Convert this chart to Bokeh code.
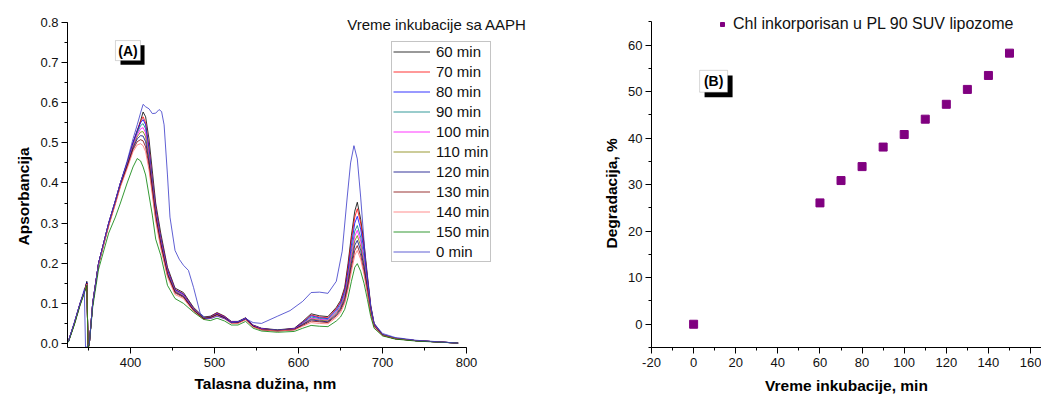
from bokeh.plotting import figure
from bokeh.layouts import row
from bokeh.models import (Legend, LegendItem, Label, BoxAnnotation, Range1d, Title,
                          SingleIntervalTicker, PrintfTickFormatter)
from bokeh.embed import file_html
from bokeh.resources import INLINE

# ---------------- data: panel A (absorption spectra) ----------------
wl = [326, 333, 340, 345, 348, 349.5, 351, 355, 362, 374, 382, 388, 396, 403, 408, 412,
      415, 418, 422, 426, 430, 436, 444, 453, 463, 475, 487, 495, 503, 512, 520, 528,
      537, 546, 556, 575, 595, 605, 615, 625, 635, 645, 650, 655, 659, 663, 667, 670,
      674, 678, 682, 686, 690, 700, 715, 740, 790]

a60 = [0.005, 0.05, 0.10, 0.13, 0.155, -0.012, 0.0, 0.10, 0.20, 0.30, 0.356, 0.40, 0.45, 0.50, 0.53, 0.555,
       0.577, 0.565, 0.51, 0.43, 0.35, 0.275, 0.19, 0.138, 0.127, 0.09, 0.066, 0.068, 0.077, 0.068, 0.055, 0.055,
       0.064, 0.046, 0.038, 0.034, 0.038, 0.055, 0.074, 0.069, 0.067, 0.09, 0.107, 0.14, 0.20, 0.27, 0.33, 0.352,
       0.31, 0.25, 0.17, 0.095, 0.05, 0.022, 0.013, 0.007, 0.001]
a70 = [0.005, 0.048, 0.098, 0.13, 0.15, -0.012, 0.0, 0.10, 0.20, 0.30, 0.355, 0.40, 0.45, 0.50, 0.53, 0.553,
       0.565, 0.55, 0.49, 0.41, 0.34, 0.265, 0.185, 0.135, 0.124, 0.088, 0.064, 0.067, 0.076, 0.067, 0.054, 0.054,
       0.063, 0.045, 0.037, 0.033, 0.037, 0.053, 0.071, 0.066, 0.064, 0.087, 0.103, 0.135, 0.19, 0.26, 0.315, 0.336,
       0.30, 0.24, 0.165, 0.092, 0.048, 0.022, 0.013, 0.007, 0.001]
a80 = [0.005, 0.05, 0.10, 0.13, 0.152, -0.012, 0.0, 0.10, 0.20, 0.30, 0.356, 0.40, 0.45, 0.50, 0.53, 0.55,
       0.558, 0.545, 0.485, 0.405, 0.335, 0.262, 0.183, 0.134, 0.123, 0.087, 0.064, 0.066, 0.075, 0.066, 0.054, 0.054,
       0.063, 0.045, 0.037, 0.033, 0.037, 0.052, 0.069, 0.064, 0.062, 0.084, 0.10, 0.13, 0.18, 0.245, 0.30, 0.317,
       0.285, 0.23, 0.16, 0.09, 0.048, 0.022, 0.013, 0.007, 0.001]
a90 = [0.004, 0.048, 0.098, 0.128, 0.15, -0.012, 0.0, 0.10, 0.20, 0.298, 0.354, 0.398, 0.448, 0.495, 0.525, 0.543,
       0.548, 0.535, 0.475, 0.40, 0.33, 0.258, 0.18, 0.132, 0.121, 0.086, 0.064, 0.066, 0.074, 0.065, 0.053, 0.053,
       0.062, 0.044, 0.036, 0.033, 0.036, 0.05, 0.066, 0.062, 0.060, 0.08, 0.095, 0.124, 0.17, 0.23, 0.28, 0.294,
       0.265, 0.215, 0.15, 0.087, 0.047, 0.021, 0.013, 0.007, 0.001]
a100 = [0.005, 0.05, 0.10, 0.13, 0.15, -0.012, 0.0, 0.10, 0.20, 0.298, 0.354, 0.398, 0.446, 0.493, 0.52, 0.535,
        0.538, 0.525, 0.468, 0.395, 0.325, 0.255, 0.178, 0.131, 0.12, 0.085, 0.063, 0.065, 0.074, 0.065, 0.053, 0.053,
        0.062, 0.044, 0.036, 0.032, 0.036, 0.049, 0.063, 0.06, 0.058, 0.078, 0.092, 0.12, 0.165, 0.22, 0.268, 0.282,
        0.255, 0.205, 0.145, 0.085, 0.046, 0.021, 0.012, 0.007, 0.001]
a110 = [0.004, 0.048, 0.098, 0.128, 0.15, -0.012, 0.0, 0.098, 0.198, 0.296, 0.352, 0.396, 0.444, 0.49, 0.515, 0.527,
        0.528, 0.515, 0.46, 0.39, 0.32, 0.25, 0.175, 0.13, 0.118, 0.084, 0.063, 0.065, 0.073, 0.064, 0.052, 0.052,
        0.061, 0.043, 0.035, 0.032, 0.035, 0.048, 0.061, 0.058, 0.056, 0.075, 0.089, 0.115, 0.158, 0.21, 0.256, 0.269,
        0.243, 0.197, 0.14, 0.082, 0.045, 0.021, 0.012, 0.007, 0.001]
a120 = [0.005, 0.05, 0.10, 0.13, 0.152, -0.012, 0.0, 0.10, 0.20, 0.296, 0.352, 0.395, 0.442, 0.487, 0.51, 0.518,
        0.517, 0.503, 0.452, 0.385, 0.317, 0.248, 0.173, 0.128, 0.117, 0.083, 0.062, 0.064, 0.072, 0.064, 0.052, 0.052,
        0.061, 0.043, 0.035, 0.032, 0.035, 0.047, 0.059, 0.056, 0.054, 0.072, 0.086, 0.11, 0.15, 0.2, 0.245, 0.257,
        0.232, 0.19, 0.135, 0.08, 0.044, 0.021, 0.012, 0.007, 0.001]
a130 = [0.004, 0.048, 0.098, 0.128, 0.15, -0.012, 0.0, 0.098, 0.198, 0.294, 0.35, 0.393, 0.44, 0.483, 0.503, 0.508,
        0.505, 0.49, 0.443, 0.378, 0.312, 0.244, 0.17, 0.126, 0.115, 0.082, 0.062, 0.064, 0.071, 0.063, 0.051, 0.051,
        0.06, 0.042, 0.034, 0.031, 0.034, 0.045, 0.056, 0.054, 0.052, 0.069, 0.082, 0.105, 0.143, 0.19, 0.232, 0.244,
        0.22, 0.18, 0.13, 0.077, 0.043, 0.02, 0.012, 0.007, 0.001]
a140 = [0.005, 0.048, 0.098, 0.128, 0.148, -0.012, 0.0, 0.098, 0.196, 0.292, 0.347, 0.39, 0.436, 0.478, 0.495, 0.498,
        0.493, 0.478, 0.433, 0.37, 0.305, 0.238, 0.166, 0.122, 0.112, 0.08, 0.06, 0.062, 0.069, 0.061, 0.05, 0.05,
        0.059, 0.041, 0.034, 0.031, 0.034, 0.043, 0.052, 0.05, 0.049, 0.065, 0.077, 0.1, 0.135, 0.18, 0.22, 0.232,
        0.21, 0.172, 0.125, 0.074, 0.042, 0.02, 0.012, 0.007, 0.001]
a150 = [0.003, 0.045, 0.095, 0.125, 0.145, -0.012, 0.0, 0.09, 0.185, 0.275, 0.315, 0.35, 0.40, 0.44, 0.461, 0.455,
        0.44, 0.42, 0.37, 0.32, 0.26, 0.22, 0.145, 0.112, 0.10, 0.078, 0.06, 0.057, 0.063, 0.056, 0.046, 0.046,
        0.055, 0.038, 0.031, 0.028, 0.03, 0.038, 0.045, 0.043, 0.042, 0.056, 0.066, 0.085, 0.115, 0.155, 0.19, 0.199,
        0.18, 0.15, 0.11, 0.067, 0.038, 0.019, 0.011, 0.006, 0.001]

wl0 = [326, 333, 340, 345, 346.5, 351, 355, 362, 374, 382, 388, 396, 403, 408, 412, 415, 418, 422, 426, 430,
       434, 437, 440, 444, 447, 453, 458, 463, 469, 475, 483, 490, 497, 503, 512, 520, 528, 537, 546, 556,
       575, 590, 605, 615, 625, 635, 645, 652, 658, 662, 666, 670, 674, 680, 686, 690, 700, 715, 740, 790]
a0 = [0.005, 0.052, 0.10, 0.135, -0.012, 0.0, 0.10, 0.20, 0.30, 0.356, 0.40, 0.455, 0.51, 0.545, 0.575, 0.596, 0.59, 0.585, 0.573, 0.574,
      0.583, 0.578, 0.545, 0.42, 0.315, 0.232, 0.21, 0.195, 0.182, 0.14, 0.075, 0.062, 0.063, 0.068, 0.062, 0.052, 0.054, 0.062, 0.052, 0.05,
      0.068, 0.082, 0.105, 0.127, 0.128, 0.125, 0.155, 0.23, 0.365, 0.45, 0.493, 0.46, 0.365, 0.2, 0.09, 0.05, 0.025, 0.015, 0.008, 0.001]

series_labels = ["60 min", "70 min", "80 min", "90 min", "100 min", "110 min",
                 "120 min", "130 min", "140 min", "150 min", "0 min"]
series_values = [a60, a70, a80, a90, a100, a110, a120, a130, a140, a150, a0]
series_x = [wl] * 10 + [wl0]
series_colors = ["#000000", "#FF0000", "#0000FF", "#008080", "#FF00FF", "#808000",
                 "#000080", "#800000", "#FF7070", "#008000", "#3838C8"]

# ---------------- data: panel B (degradation) ----------------
time_min = [0, 60, 70, 80, 90, 100, 110, 120, 130, 140, 150]
degradation = [0.0, 26.1, 30.9, 33.9, 38.1, 40.8, 44.1, 47.3, 50.5, 53.5, 58.3]

FONT = "Liberation Sans"
LABEL_SIZE = "15.5px"


def style_axes(p):
    for ax in (p.xaxis[0], p.yaxis[0]):
        ax.axis_line_color = "black"
        ax.axis_line_width = 1
        ax.major_tick_line_color = "black"
        ax.minor_tick_line_color = "black"
        ax.major_tick_out = 6
        ax.major_tick_in = 0
        ax.minor_tick_out = 3
        ax.minor_tick_in = 0
        ax.major_label_text_font = FONT
        ax.major_label_text_font_size = "13px"
        ax.major_label_text_color = "#111111"
        ax.axis_label_text_font = FONT
        ax.axis_label_text_font_style = "bold"
        ax.axis_label_text_font_size = LABEL_SIZE
        ax.axis_label_text_color = "#000000"
    p.xaxis[0].major_label_standoff = 4
    p.yaxis[0].major_label_standoff = 3
    p.xaxis[0].axis_label_standoff = 7
    p.xgrid.visible = False
    p.ygrid.visible = False
    p.outline_line_color = None
    p.background_fill_color = "white"
    p.border_fill_color = "white"


def axis_title(text, offset, standoff):
    return Title(text=text, align="left", offset=offset, standoff=standoff,
                 text_font=FONT, text_font_style="bold", text_font_size=LABEL_SIZE,
                 text_color="#000000")


H = 397
TOP = 8
FRAME_H = 339
BOTTOM = H - TOP - FRAME_H

# ---------------- panel A ----------------
p1 = figure(width=548, height=H, x_range=Range1d(325, 897.6), y_range=Range1d(-0.01, 0.8349),
            output_backend="svg", toolbar_location=None,
            min_border_left=67, min_border_right=0, min_border_top=TOP, min_border_bottom=BOTTOM)
p1.xaxis[0].ticker = SingleIntervalTicker(interval=100, num_minor_ticks=2)
p1.yaxis[0].ticker = SingleIntervalTicker(interval=0.1, num_minor_ticks=2)
p1.yaxis[0].formatter = PrintfTickFormatter(format="%.1f")
p1.xaxis[0].bounds = (325, 800)
p1.yaxis[0].bounds = (-0.01, 0.8)
style_axes(p1)
p1.add_layout(axis_title("Talasna dužina, nm", 127, 7), "below")
p1.add_layout(axis_title("Apsorbancija", 102, 12), "left")

items = []
for lab, xs, ys, col in zip(series_labels, series_x, series_values, series_colors):
    r = p1.line(xs, ys, line_color=col, line_width=1, line_alpha=0.8)
    items.append(LegendItem(label=lab, renderers=[r]))

leg1 = Legend(items=items, location=(324, 85), border_line_color="#8a8a8a", border_line_width=1,
              background_fill_color="white", background_fill_alpha=1,
              label_text_font=FONT, label_text_font_size="15px", label_text_color="#111111",
              label_height=17, glyph_height=17, glyph_width=37, spacing=3, padding=1, margin=0,
              label_standoff=6)
p1.add_layout(leg1)
p1.add_layout(Label(x=658, y=0.7945, text="Vreme inkubacije sa AAPH", text_font=FONT,
                    text_font_size="15px", text_color="#111111", text_align="left",
                    text_baseline="alphabetic"))
# (A) framed tag with shadow
p1.add_layout(BoxAnnotation(left=388.1, right=416.7, bottom=0.695, top=0.743,
                            fill_color="black", fill_alpha=1, line_color=None))
p1.add_layout(BoxAnnotation(left=382.1, right=411.9, bottom=0.705, top=0.755,
                            fill_color="white", fill_alpha=1, line_color="#777777", line_width=1))
p1.add_layout(Label(x=397, y=0.730, text="(A)", text_font=FONT, text_font_style="bold",
                    text_font_size="14px", text_color="black", text_align="center",
                    text_baseline="middle"))

# ---------------- panel B ----------------
p2 = figure(width=493, height=H, x_range=Range1d(-20, 165.2), y_range=Range1d(-5, 67.9),
            output_backend="svg", toolbar_location=None,
            min_border_left=103, min_border_right=0, min_border_top=TOP, min_border_bottom=BOTTOM,
            x_axis_label="Vreme inkubacije, min")
p2.xaxis[0].ticker = SingleIntervalTicker(interval=20, num_minor_ticks=2)
p2.yaxis[0].ticker = SingleIntervalTicker(interval=10, num_minor_ticks=2)
p2.xaxis[0].formatter = PrintfTickFormatter(format="%d")
p2.yaxis[0].formatter = PrintfTickFormatter(format="%d")
p2.yaxis[0].bounds = (-5, 65)
style_axes(p2)
p2.add_layout(axis_title("Degradacija, %", 99, 11), "left")

sc = p2.scatter(time_min, degradation, marker="square", size=8, fill_color="#800080",
                line_color="#800080")
leg2 = Legend(items=[LegendItem(label="Chl inkorporisan u PL 90 SUV lipozome", renderers=[sc])],
              location=(66, 314), border_line_color=None, background_fill_alpha=0,
              label_text_font=FONT, label_text_font_size="16px", label_text_color="#111111",
              glyph_width=10, glyph_height=16, label_height=16, padding=0, margin=0,
              label_standoff=6)
p2.add_layout(leg2)
# (B) framed tag with shadow
p2.add_layout(BoxAnnotation(left=5.2, right=18.5, bottom=48.8, top=53.5,
                            fill_color="black", fill_alpha=1, line_color=None))
p2.add_layout(BoxAnnotation(left=2.85, right=16.15, bottom=49.9, top=54.6,
                            fill_color="white", fill_alpha=1, line_color="#777777", line_width=1))
p2.add_layout(Label(x=9.5, y=52.25, text="(B)", text_font=FONT, text_font_style="bold",
                    text_font_size="14px", text_color="black", text_align="center",
                    text_baseline="middle"))

layout = row(p1, p2)
open("out.html", "w").write(file_html(layout, INLINE))
